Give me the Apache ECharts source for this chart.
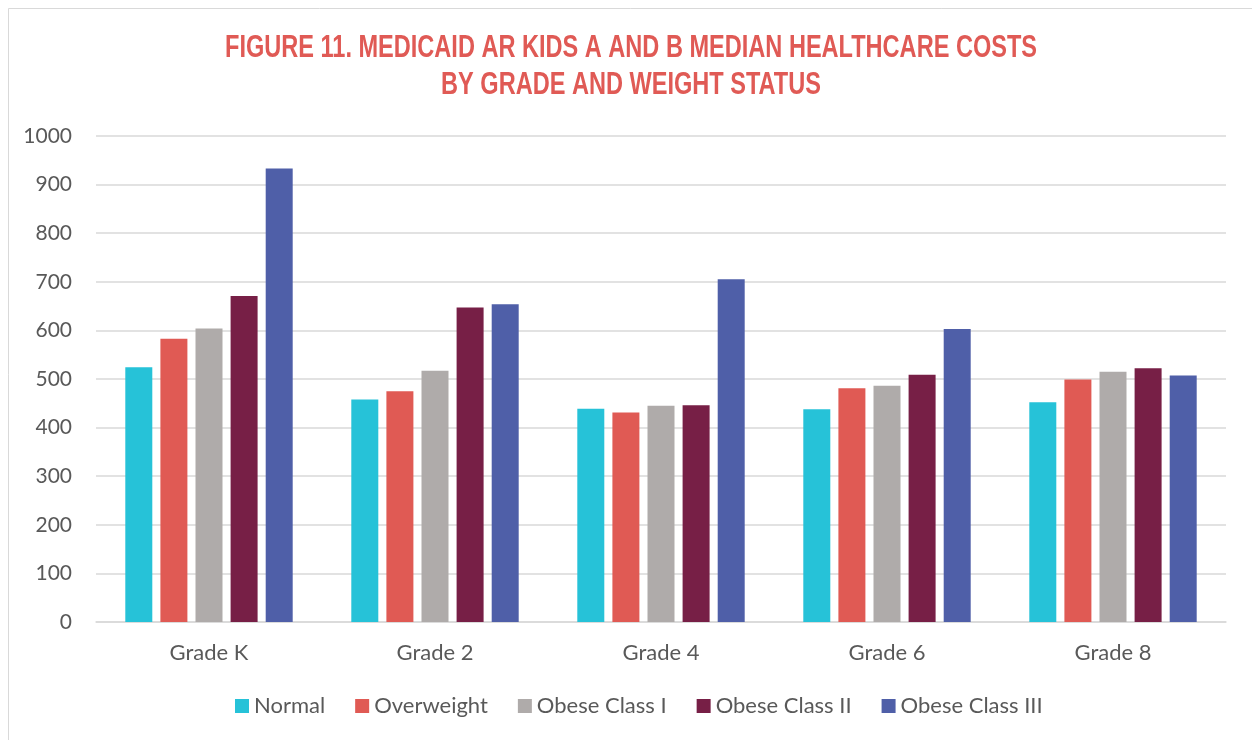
<!DOCTYPE html>
<html><head><meta charset="utf-8">
<script src="https://cdn.jsdelivr.net/npm/echarts@6/dist/echarts.min.js"></script>
<style>html,body{margin:0;padding:0;background:#fff}#c{width:1252px;height:740px}</style>
</head><body><div id="c"></div>
<script>
const categories = ['Grade K', 'Grade 2', 'Grade 4', 'Grade 6', 'Grade 8'];
const normal = [524, 458, 439, 438, 452];
const overweight = [583, 475, 431, 481, 499];
const obeseI = [604, 517, 445, 486, 515];
const obeseII = [671, 647, 446, 509, 522];
const obeseIII = [933, 654, 705, 603, 507];
const yTicks = [0, 100, 200, 300, 400, 500, 600, 700, 800, 900, 1000];
const titleLines = ['FIGURE 11. MEDICAID AR KIDS A AND B MEDIAN HEALTHCARE COSTS', 'BY GRADE AND WEIGHT STATUS'];

const names = ['Normal', 'Overweight', 'Obese Class I', 'Obese Class II', 'Obese Class III'];
const colors = ['#26C2D8', '#E05A54', '#AFABAA', '#771F46', '#4F5FA8'];
const data = [normal, overweight, obeseI, obeseII, obeseIII];
const font = 'Lato, "Open Sans", sans-serif';
const titleFont = 'bold 32px "Liberation Sans", Arial, sans-serif';

// condense the title to the reference's width
const ctx = document.createElement('canvas').getContext('2d');
ctx.font = titleFont;
const titleScale = 812 / ctx.measureText(titleLines[0]).width;

const chart = echarts.init(document.getElementById('c'), null, {renderer: 'canvas'});
chart.setOption({
  animation: false,
  backgroundColor: '#fff',
  graphic: [
    {type: 'rect', shape: {x: 8.5, y: 8.5, width: 1260, height: 760}, style: {fill: 'none', stroke: '#D9D9D9', lineWidth: 1}, silent: true},
    {type: 'text', x: 631, y: 48.5, scaleX: titleScale, style: {text: titleLines[0], font: titleFont, fill: '#E05A55', align: 'center', verticalAlign: 'middle'}},
    {type: 'text', x: 631, y: 85, scaleX: titleScale, style: {text: titleLines[1], font: titleFont, fill: '#E05A55', align: 'center', verticalAlign: 'middle'}}
  ],
  legend: {
    top: 690, left: 230, itemWidth: 14, itemHeight: 14, itemGap: 30,
    icon: 'rect',
    textStyle: {fontFamily: font, fontSize: 22, color: '#595959'},
    data: names
  },
  grid: {left: 96, right: 26, top: 136, bottom: 118, containLabel: false},
  xAxis: {
    type: 'category', data: categories,
    axisLine: {lineStyle: {color: '#D9D9D9', width: 1.5}},
    axisTick: {show: false},
    axisLabel: {fontFamily: font, fontSize: 22, color: '#595959', margin: 20}
  },
  yAxis: {
    type: 'value', min: 0, max: 1000, interval: 100,
    axisLine: {show: false}, axisTick: {show: false},
    splitLine: {lineStyle: {color: '#D9D9D9', width: 1.5}},
    axisLabel: {fontFamily: font, fontSize: 21, color: '#595959', margin: 24,
      formatter: v => yTicks.includes(v) ? String(v) : ''}
  },
  series: names.map((n, i) => ({
    name: n, type: 'bar', data: data[i], barWidth: 27, barGap: '30%',
    itemStyle: {color: colors[i]}
  }))
});
</script></body></html>
